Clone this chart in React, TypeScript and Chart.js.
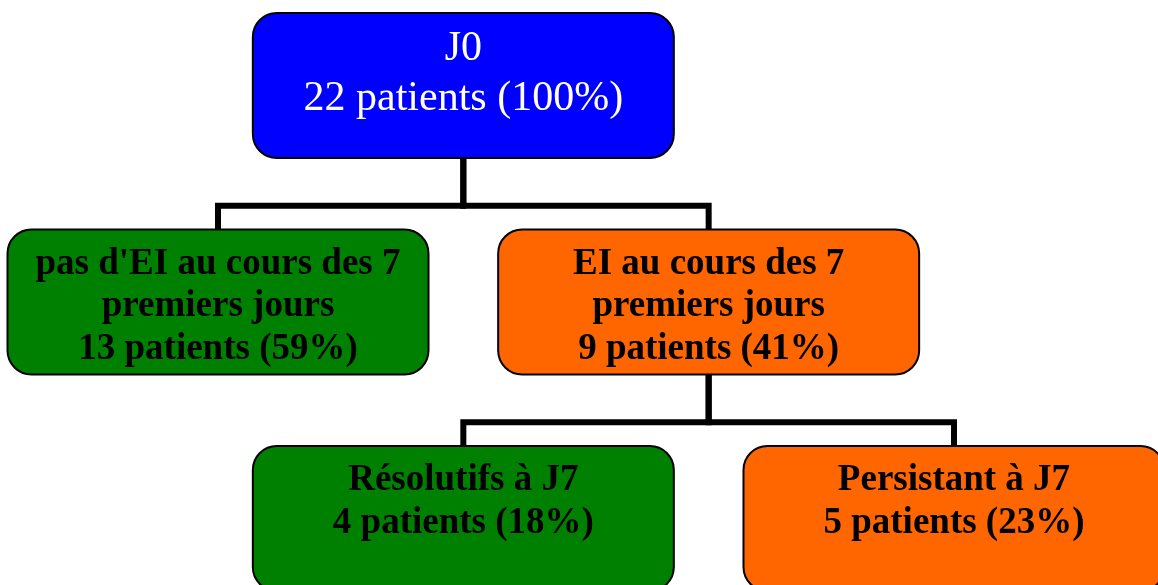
import React, { useEffect, useRef } from "react";
import { Chart, registerables } from "chart.js";

Chart.register(...registerables);

// ---- data ----
const nodeTitles: string[][] = [
  ["J0"],
  ["pas d'EI au cours des 7", "premiers jours"],
  ["EI au cours des 7", "premiers jours"],
  ["Résolutifs à J7"],
  ["Persistant à J7"],
];
const nodePatients = [22, 13, 9, 4, 5];
const nodePercent = [100, 59, 41, 18, 23];
const nodeParent = [-1, 0, 0, 2, 2];
const nodeLevel = [0, 1, 1, 2, 2];
const nodeColumn = [1, 0, 2, 1, 3];
const nodeKind = ["root", "none", "ei", "none", "ei"];

// ---- layout / style ----
const W = 1158;
const H = 585;
const COL_PX = 245.33;
const COL0_PX = 218;
const LEVEL_PX = 216.5;
const LEVEL0_PX = 85.5;
const BOX_W = 421 / COL_PX;
const BOX_H = 145 / LEVEL_PX;
const BAR = 0.555;
const RADIUS = 24;
const kindFill: Record<string, string> = { root: "#0000FF", none: "#008000", ei: "#FF6600" };
const kindText: Record<string, string> = { root: "#FFFFFF", none: "#000000", ei: "#000000" };

const boxesPlugin = {
  id: "treeBoxes",
  afterDatasetsDraw(chart: any) {
    const ctx = chart.ctx as CanvasRenderingContext2D;
    const xs = chart.scales.x;
    const ys = chart.scales.y;
    ctx.save();
    nodeTitles.forEach((title, i) => {
      const c = nodeColumn[i];
      const l = nodeLevel[i];
      const x0 = xs.getPixelForValue(c - BOX_W / 2);
      const x1 = xs.getPixelForValue(c + BOX_W / 2);
      const y0 = ys.getPixelForValue(l - BOX_H / 2);
      const y1 = ys.getPixelForValue(l + BOX_H / 2);
      const cx = (x0 + x1) / 2;
      ctx.beginPath();
      (ctx as any).roundRect(x0, y0, x1 - x0, y1 - y0, RADIUS);
      ctx.fillStyle = kindFill[nodeKind[i]];
      ctx.fill();
      ctx.lineWidth = 2;
      ctx.strokeStyle = "#000000";
      ctx.stroke();

      const lines = [...title, `${nodePatients[i]} patients (${nodePercent[i]}%)`];
      const isRoot = nodeKind[i] === "root";
      ctx.font = isRoot ? "42px 'Liberation Serif'" : "bold 37px 'Liberation Serif'";
      ctx.fillStyle = kindText[nodeKind[i]];
      ctx.textAlign = "center";
      ctx.textBaseline = "alphabetic";
      const first = isRoot ? 47 : 44;
      const lh = isRoot ? 49.5 : 42.5;
      lines.forEach((t, k) => {
        ctx.fillText(t, cx, y0 + first + k * lh);
      });
    });
    ctx.restore();
  },
};

export default function App() {
  const ref = useRef<HTMLCanvasElement | null>(null);
  useEffect(() => {
    document.body.style.margin = "0";
    const datasets = nodeParent
      .map((p, i) => {
        if (p < 0) return null;
        const pc = nodeColumn[p];
        const pl = nodeLevel[p];
        const cc = nodeColumn[i];
        const cl = nodeLevel[i];
        return {
          type: "scatter" as const,
          data: [
            { x: pc, y: pl + BOX_H / 2 },
            { x: pc, y: pl + BAR },
            { x: cc, y: pl + BAR },
            { x: cc, y: cl - BOX_H / 2 },
          ],
          showLine: true,
          borderColor: "#000000",
          borderWidth: 6,
          borderJoinStyle: "miter" as const,
          borderCapStyle: "butt" as const,
          pointRadius: 0,
          tension: 0,
          clip: false as any,
        };
      })
      .filter(Boolean) as any[];

    const chart = new Chart(ref.current!, {
      type: "scatter",
      data: { datasets },
      options: {
        animation: false,
        responsive: false,
        layout: { padding: 0 },
        plugins: { legend: { display: false }, tooltip: { enabled: false } },
        events: [],
        scales: {
          x: {
            type: "linear",
            display: false,
            min: -COL0_PX / COL_PX,
            max: (W - COL0_PX) / COL_PX,
          },
          y: {
            type: "linear",
            display: false,
            reverse: true,
            min: -LEVEL0_PX / LEVEL_PX,
            max: (H - LEVEL0_PX) / LEVEL_PX,
          },
        },
      },
      plugins: [boxesPlugin],
    });
    return () => chart.destroy();
  }, []);
  return (
    <div style={{ width: W, height: H, background: "#ffffff" }}>
      <canvas ref={ref} width={W} height={H} style={{ display: "block" }} />
    </div>
  );
}
